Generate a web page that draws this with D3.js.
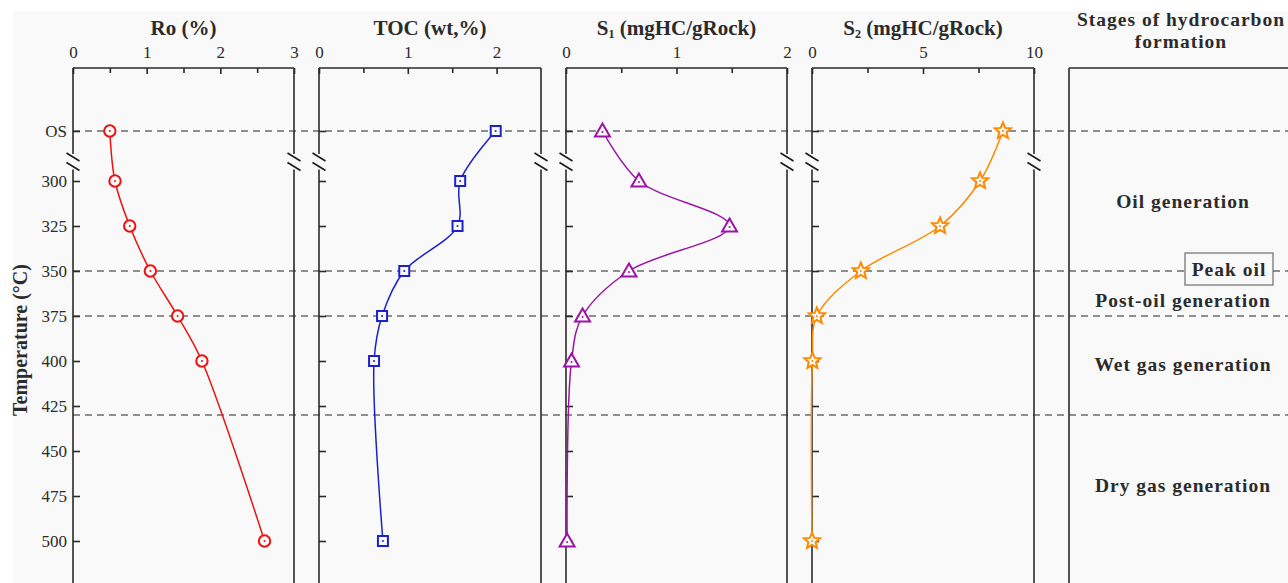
<!DOCTYPE html>
<html>
<head>
<meta charset="utf-8">
<script src="https://cdn.jsdelivr.net/npm/d3@7/dist/d3.min.js"></script>
<style>
  html, body { margin: 0; padding: 0; background: #ffffff; }
  svg { display: block; font-family: "Liberation Serif", "Times New Roman", serif; }
</style>
</head>
<body>
<svg id="chart" width="1288" height="583"></svg>
<script>
// Sampling levels: original sample (OS) and heating temperatures (°C)
const levels = ["OS", 300, 325, 350, 375, 400, 500];
const tempTicks = [300, 325, 350, 375, 400, 425, 450, 475, 500];

// Measured parameters at each level
const roValues  = [0.50, 0.57, 0.77, 1.05, 1.42, 1.75, 2.60];
const tocValues = [1.99, 1.59, 1.56, 0.96, 0.71, 0.62, 0.72];
const s1Values  = [0.33, 0.66, 1.48, 0.57, 0.15, 0.05, 0.01];
const s2Values  = [8.60, 7.57, 5.77, 2.20, 0.22, 0.02, 0.00];

// Boundaries between hydrocarbon generation stages (°C)
const stageBoundaries = ["OS", 350, 375, 430];
const stageLabels = ["Oil generation", "Post-oil generation", "Wet gas generation", "Dry gas generation"];
const stageLabelTemps = [311, 366, 401.5, 469];
const peakLabel = "Peak oil";

const svg = d3.select("#chart");
const W = 1288, H = 583;
const plotTop = 68;

// plot background
svg.append("rect").attr("x", 13).attr("y", 11).attr("width", W - 13).attr("height", H - 11).attr("fill", "#f9f9f9");

// vertical scales: linear temperature section plus a separate slot for the OS sample
const yTemp = d3.scaleLinear().domain([300, 500]).range([181, 541]);
const yOS = d3.scaleOrdinal().domain(["OS"]).range([131]);
const yPos = v => (v === "OS" ? yOS(v) : yTemp(v));
const breakY = [157, 166.5];

const panels = [
  { title: ["Ro (%)"], x0: 73, x1: 294, domain: [0, 3], labels: [0, 1, 2, 3], minor: [0.5, 1.5, 2.5], values: roValues, color: "#ee1111", symbol: "circle" },
  { title: ["TOC (wt,%)"], x0: 319, x1: 541, domain: [0, 2.5], labels: [0, 1, 2], minor: [0.5, 1.5], values: tocValues, color: "#1a22c8", symbol: "square" },
  { title: ["S", "1", " (mgHC/gRock)"], x0: 566, x1: 787, domain: [0, 2], labels: [0, 1, 2], minor: [0.5, 1.5], values: s1Values, color: "#9a14a6", symbol: "triangle" },
  { title: ["S", "2", " (mgHC/gRock)"], x0: 812, x1: 1034, domain: [0, 10], labels: [0, 5, 10], minor: [2.5, 7.5], values: s2Values, color: "#ff8a00", symbol: "star" }
];

const axisColor = "#2a2a2a";
const textColor = "#2b2b2b";

// dashed stage boundaries across all panels
svg.append("g").selectAll("line").data(stageBoundaries).join("line")
  .attr("x1", 73).attr("x2", W)
  .attr("y1", d => yPos(d)).attr("y2", d => yPos(d))
  .attr("stroke", "#6b6b6b").attr("stroke-width", 1.3).attr("stroke-dasharray", "7,5");

function starPath(r) {
  const pts = [];
  for (let i = 0; i < 10; i++) {
    const rr = i % 2 === 0 ? r : r * 0.45;
    const a = -Math.PI / 2 + i * Math.PI / 5;
    pts.push([rr * Math.cos(a), rr * Math.sin(a)]);
  }
  return "M" + pts.map(p => p.join(",")).join("L") + "Z";
}

panels.forEach(p => {
  const x = d3.scaleLinear().domain(p.domain).range([p.x0, p.x1]);
  const g = svg.append("g");

  // frame: top line and two vertical sides with break gaps
  g.append("line").attr("x1", p.x0).attr("x2", p.x1).attr("y1", plotTop).attr("y2", plotTop)
    .attr("stroke", axisColor).attr("stroke-width", 1.6);
  [p.x0, p.x1].forEach(xx => {
    g.append("line").attr("x1", xx).attr("x2", xx).attr("y1", plotTop).attr("y2", breakY[0] - 3)
      .attr("stroke", axisColor).attr("stroke-width", 1.6);
    g.append("line").attr("x1", xx).attr("x2", xx).attr("y1", breakY[1] + 3).attr("y2", H + 2)
      .attr("stroke", axisColor).attr("stroke-width", 1.6);
    breakY.forEach(by => {
      g.append("line").attr("x1", xx - 6.5).attr("x2", xx + 6.5).attr("y1", by - 4).attr("y2", by + 4)
        .attr("stroke", "#1a1a1a").attr("stroke-width", 1.6);
    });
  });

  // top axis: labelled ticks and minor ticks pointing inward
  const topAxis = d3.axisTop(x).tickValues(p.labels).tickSize(-6).tickPadding(10).tickFormat(d3.format("d"));
  const ta = g.append("g").attr("transform", `translate(0,${plotTop})`).call(topAxis);
  ta.select(".domain").remove();
  ta.selectAll(".tick line").attr("stroke", axisColor).attr("stroke-width", 1.6);
  ta.selectAll(".tick text").attr("font-size", 17).attr("fill", textColor)
    .attr("font-family", "Liberation Serif");
  const minorAxis = d3.axisTop(x).tickValues(p.minor).tickSize(-5).tickFormat("");
  const ma = g.append("g").attr("transform", `translate(0,${plotTop})`).call(minorAxis);
  ma.select(".domain").remove();
  ma.selectAll(".tick line").attr("stroke", axisColor).attr("stroke-width", 1.6);

  // left axis ticks (inward) for temperatures and OS
  const la = g.append("g").attr("transform", `translate(${p.x0},0)`)
    .call(d3.axisLeft(yTemp).tickValues(tempTicks).tickSize(-7).tickPadding(6));
  const lo = g.append("g").attr("transform", `translate(${p.x0},0)`)
    .call(d3.axisLeft(yOS).tickSize(-7).tickPadding(6));
  [la, lo].forEach(a => {
    a.select(".domain").remove();
    a.selectAll(".tick line").attr("stroke", axisColor).attr("stroke-width", 1.6);
    a.selectAll(".tick text").attr("font-size", 17).attr("fill", textColor).attr("font-family", "Liberation Serif")
      .style("display", p.x0 === 73 ? null : "none");
  });

  // panel title
  const t = svg.append("text").attr("x", (p.x0 + p.x1) / 2).attr("y", 35)
    .attr("text-anchor", "middle").attr("font-size", 21).attr("font-weight", "bold").attr("fill", textColor);
  if (p.title.length === 1) {
    t.text(p.title[0]);
  } else {
    t.append("tspan").text(p.title[0]);
    t.append("tspan").text(p.title[1]).attr("font-size", 12).attr("dy", 3);
    t.append("tspan").text(p.title[2]).attr("dy", -3);
  }

  // profile curve and markers
  const pts = levels.map((lv, i) => ({ lv, v: p.values[i] }));
  const line = d3.line().x(d => x(d.v)).y(d => yPos(d.lv)).curve(d3.curveCatmullRom.alpha(0.5));
  g.append("path").datum(pts).attr("d", line).attr("fill", "none").attr("stroke", p.color).attr("stroke-width", 1.5);

  const mk = g.append("g").selectAll("g").data(pts).join("g")
    .attr("transform", d => `translate(${x(d.v)},${yPos(d.lv)})`);
  if (p.symbol === "circle") {
    mk.append("circle").attr("r", 5.7);
  } else if (p.symbol === "square") {
    mk.append("rect").attr("x", -5).attr("y", -5).attr("width", 10).attr("height", 10);
  } else if (p.symbol === "triangle") {
    mk.append("path").attr("d", "M0,-7.5L7.5,5.5L-7.5,5.5Z");
  } else {
    mk.append("path").attr("d", starPath(8.5));
  }
  mk.selectAll("circle,rect,path").attr("fill", "#f9f9f9").attr("stroke", p.color).attr("stroke-width", 2);
  mk.append("circle").attr("r", 1).attr("cy", p.symbol === "triangle" ? 1 : 0).attr("fill", p.color);
});

// y-axis title
svg.append("text").attr("transform", `translate(27,340) rotate(-90)`).attr("text-anchor", "middle")
  .attr("font-size", 20).attr("font-weight", "bold").attr("fill", textColor).text("Temperature (°C)");

// stage panel
const sx0 = 1069;
svg.append("line").attr("x1", sx0).attr("x2", W).attr("y1", plotTop).attr("y2", plotTop)
  .attr("stroke", axisColor).attr("stroke-width", 1.6);
svg.append("line").attr("x1", sx0).attr("x2", sx0).attr("y1", plotTop).attr("y2", H + 2)
  .attr("stroke", axisColor).attr("stroke-width", 1.6);

const stTitle = svg.append("text").attr("text-anchor", "middle").attr("font-size", 19.5)
  .attr("font-weight", "bold").attr("fill", textColor).attr("letter-spacing", 1);
stTitle.append("tspan").attr("x", 1181).attr("y", 26).text("Stages of hydrocarbon");
stTitle.append("tspan").attr("x", 1181).attr("y", 47.5).text("formation");

svg.append("g").selectAll("text").data(stageLabels).join("text")
  .attr("x", 1183).attr("y", (d, i) => yTemp(stageLabelTemps[i]) + 7)
  .attr("text-anchor", "middle").attr("font-size", 19.5).attr("font-weight", "bold")
  .attr("letter-spacing", 1).attr("fill", textColor).text(d => d);

// peak oil callout on the 350 °C boundary
const py = yTemp(350);
svg.append("rect").attr("x", 1185).attr("y", py - 18).attr("width", 88).attr("height", 32)
  .attr("fill", "#f9f9f9").attr("stroke", "#777").attr("stroke-width", 1.3);
svg.append("text").attr("x", 1229).attr("y", py + 5).attr("text-anchor", "middle")
  .attr("font-size", 19.5).attr("font-weight", "bold").attr("letter-spacing", 1).attr("fill", textColor).text(peakLabel);
</script>
</body>
</html>
